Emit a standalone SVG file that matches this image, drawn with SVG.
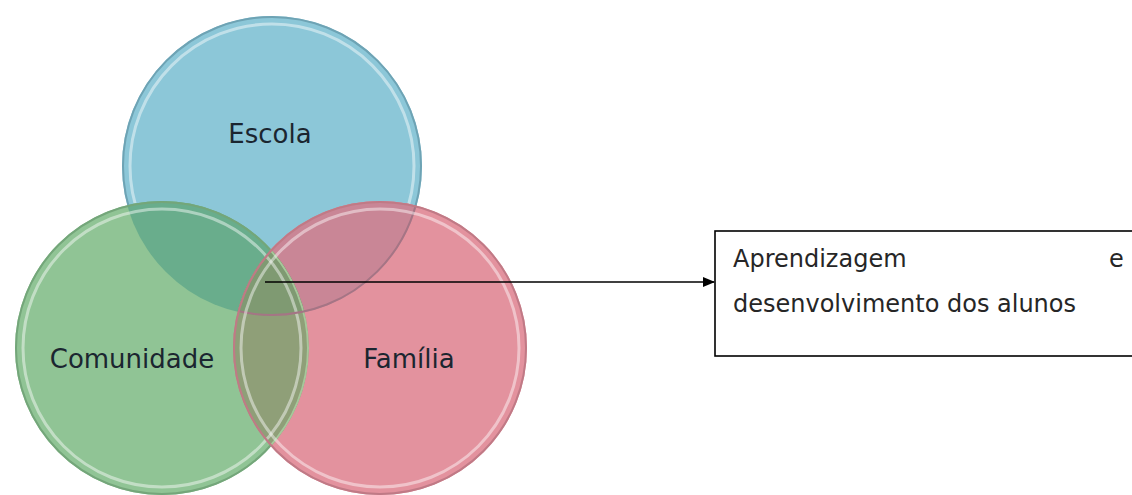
<svg xmlns="http://www.w3.org/2000/svg" width="1132" height="495" viewBox="0 0 1132 495">
  <style>
    .lbl { font-family: "DejaVu Sans", "Liberation Sans", sans-serif; font-size: 26px; fill: #1b2630; text-anchor: middle; }
    .box-text { font-family: "DejaVu Sans", "Liberation Sans", sans-serif; font-size: 24px; fill: #262626; }
    .rim { fill: none; stroke-width: 2; }
    .hl { fill: none; stroke: #ffffff; stroke-width: 3; stroke-opacity: 0.45; }
    .conn { stroke: #000; stroke-width: 1.6; fill: none; }
  </style>
  <defs>
    <clipPath id="clipBlue"><circle cx="272" cy="166" r="150"/></clipPath>
    <clipPath id="clipGreen"><circle cx="162" cy="348" r="147"/></clipPath>
    <clipPath id="clipPink"><circle cx="380" cy="348" r="147"/></clipPath>
    <marker id="arrow" markerWidth="12" markerHeight="10" refX="11" refY="5" orient="auto" markerUnits="userSpaceOnUse">
      <path d="M0,0 L12,5 L0,10 Z" fill="#000"/>
    </marker>
  </defs>
  <rect width="1132" height="495" fill="#ffffff"/>

  <g id="node-escola">
    <circle cx="272" cy="166" r="150" fill="#8cc7d8"/>
    <circle cx="272" cy="166" r="149" class="rim" stroke="#6ea3b4"/>
    <circle cx="272" cy="166" r="142" class="hl"/>
    <text class="lbl" x="270" y="143">Escola</text>
  </g>

  <g id="node-comunidade">
    <circle cx="162" cy="348" r="147" fill="#90c495"/>
    <g clip-path="url(#clipGreen)">
      <circle cx="272" cy="166" r="150" fill="#69ad8c"/>
    </g>
    <circle cx="162" cy="348" r="146" class="rim" stroke="#74a67a"/>
    <circle cx="162" cy="348" r="139" class="hl"/>
    <text class="lbl" x="132" y="368">Comunidade</text>
  </g>

  <g id="node-familia">
    <circle cx="380" cy="348" r="147" fill="#e3929e"/>
    <g clip-path="url(#clipPink)">
      <circle cx="272" cy="166" r="150" fill="#c98696"/>
      <g clip-path="url(#clipGreen)">
        <circle cx="162" cy="348" r="147" fill="#8f9f78"/>
        <circle cx="272" cy="166" r="150" fill="#7f9a72" clip-path="url(#clipBlue)"/>
        <circle cx="162" cy="348" r="146" class="rim" stroke="#a6c79a"/>
        <circle cx="162" cy="348" r="139" class="hl"/>
      </g>
      <circle cx="272" cy="166" r="149" class="rim" stroke="#a57585"/>
    </g>
    <circle cx="380" cy="348" r="146" class="rim" stroke="#c07a86"/>
    <circle cx="380" cy="348" r="139" class="hl"/>
    <text class="lbl" x="409" y="368">Família</text>
  </g>

  <g id="connectors">
    <line class="conn" x1="265" y1="282" x2="714" y2="282" marker-end="url(#arrow)"/>
  </g>

  <g id="node-resultado">
    <rect x="715" y="231" width="430" height="125" fill="#ffffff" stroke="#000" stroke-width="1.6"/>
    <text class="box-text" x="733" y="267">Aprendizagem</text>
    <text class="box-text" x="1109" y="267">e</text>
    <text class="box-text" x="733" y="312">desenvolvimento dos alunos</text>
  </g>
</svg>
